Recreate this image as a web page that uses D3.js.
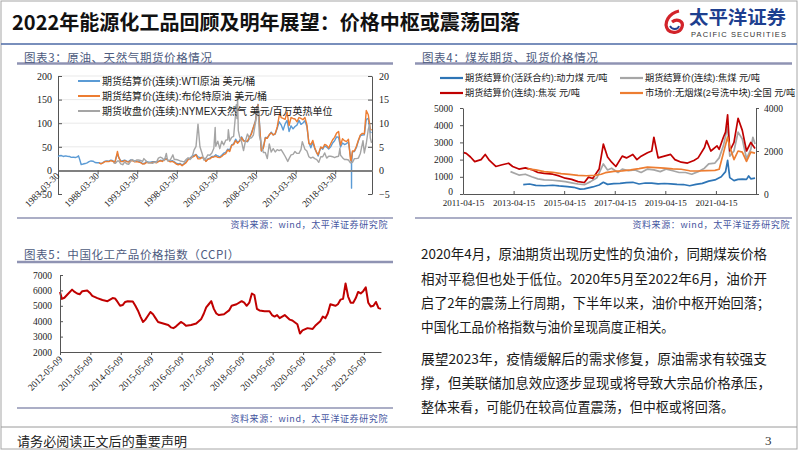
<!DOCTYPE html>
<html>
<head>
<meta charset="utf-8">
<script src="https://cdn.jsdelivr.net/npm/d3@7"></script>
<style>
	body { margin: 0; background: #fff; }
	svg { display: block; }
</style>
</head>
<body>
<svg id="slide" width="802" height="452"></svg>
<script>
// ---- data ----
var oilTicks = ['1983-03-30', '1988-03-30', '1993-03-30', '1998-03-30', '2003-03-30', '2008-03-30', '2013-03-30', '2018-03-30'];
var oilLeftTicks = [-50, 0, 50, 100, 150, 200];
var oilRightTicks = [-5, 0, 5, 10, 15, 20];
var oilNames = ['期货结算价(连续):WTI原油 美元/桶', '期货结算价(连续):布伦特原油 美元/桶', '期货收盘价(连续):NYMEX天然气 美元/百万英热单位'];

var wti = [
	['1983-03-30', 29.3], ['1983-06', 31.0], ['1983-09', 31.5], ['1983-12', 29.5],
	['1984-03', 30.8], ['1984-06', 30.0], ['1984-09', 29.5], ['1984-12', 27.5],
	['1985-03', 28.0], ['1985-06', 27.2], ['1985-09', 28.5], ['1985-11', 30.8],
	['1986-01', 22.0], ['1986-03', 12.6], ['1986-06', 13.5], ['1986-09', 14.5], ['1986-12', 16.0],
	['1987-03', 18.5], ['1987-06', 20.0], ['1987-09', 19.5], ['1987-12', 16.8],
	['1988-03', 16.2], ['1988-06', 16.5], ['1988-09', 14.5], ['1988-12', 16.5],
	['1989-03', 19.5], ['1989-06', 20.2], ['1989-09', 19.6], ['1989-12', 21.8],
	['1990-03', 20.5], ['1990-06', 17.0], ['1990-08', 27.0], ['1990-10', 35.0], ['1990-12', 27.5],
	['1991-03', 19.5], ['1991-06', 20.5], ['1991-09', 21.5], ['1991-12', 19.5],
	['1992-03', 19.0], ['1992-06', 22.3], ['1992-09', 21.5], ['1992-12', 19.5],
	['1993-03', 20.3], ['1993-06', 19.0], ['1993-09', 17.5], ['1993-12', 14.5],
	['1994-03', 14.6], ['1994-06', 19.0], ['1994-09', 17.5], ['1994-12', 17.6],
	['1995-03', 18.6], ['1995-06', 18.5], ['1995-09', 17.8], ['1995-12', 19.0],
	['1996-03', 21.5], ['1996-06', 20.5], ['1996-09', 24.0], ['1996-12', 25.5],
	['1997-03', 21.0], ['1997-06', 19.5], ['1997-09', 20.5], ['1997-12', 18.3],
	['1998-03', 15.5], ['1998-06', 13.7], ['1998-09', 14.8], ['1998-12', 11.3],
	['1999-03', 14.5], ['1999-06', 18.5], ['1999-09', 24.0], ['1999-12', 26.0],
	['2000-03', 30.0], ['2000-06', 32.0], ['2000-09', 34.0], ['2000-12', 28.5],
	['2001-03', 27.0], ['2001-06', 27.5], ['2001-09', 26.0], ['2001-12', 19.5],
	['2002-03', 24.5], ['2002-06', 26.0], ['2002-09', 29.5], ['2002-12', 29.5],
	['2003-03', 33.0], ['2003-06', 30.5], ['2003-09', 28.5], ['2003-12', 32.0],
	['2004-03', 36.5], ['2004-06', 38.0], ['2004-09', 45.0], ['2004-12', 43.0],
	['2005-03', 54.0], ['2005-06', 56.5], ['2005-09', 66.0], ['2005-12', 59.5],
	['2006-03', 62.5], ['2006-06', 71.0], ['2006-09', 63.5], ['2006-12', 62.0],
	['2007-03', 60.5], ['2007-06', 67.5], ['2007-09', 80.0], ['2007-12', 91.5],
	['2008-03', 105.0], ['2008-05', 125.0], ['2008-07', 140.0], ['2008-09', 104.0], ['2008-12', 41.0],
	['2009-03', 48.0], ['2009-06', 70.0], ['2009-09', 69.5], ['2009-12', 74.5],
	['2010-03', 81.0], ['2010-06', 75.5], ['2010-09', 77.0], ['2010-12', 89.0],
	['2011-03', 103.0], ['2011-06', 96.5], ['2011-09', 85.5], ['2011-12', 98.5],
	['2012-03', 106.0], ['2012-06', 82.5], ['2012-09', 94.5], ['2012-12', 88.0],
	['2013-03', 93.0], ['2013-06', 96.0], ['2013-09', 106.0], ['2013-12', 97.5],
	['2014-03', 100.5], ['2014-06', 105.0], ['2014-09', 93.0], ['2014-12', 59.0],
	['2015-03', 47.8], ['2015-06', 59.8], ['2015-09', 45.5], ['2015-12', 37.2],
	['2016-02', 30.5], ['2016-06', 48.8], ['2016-09', 44.9], ['2016-12', 52.0],
	['2017-03', 49.5], ['2017-06', 45.2], ['2017-09', 49.8], ['2017-12', 58.0],
	['2018-03', 62.8], ['2018-06', 71.0], ['2018-09', 70.2], ['2018-12', 49.5],
	['2019-03', 58.2], ['2019-06', 54.7], ['2019-09', 56.9], ['2019-12', 59.8],
	['2020-03-31', 20.5], ['2020-04-17', 18.3], ['2020-04-20', -37.6], ['2020-04-22', 13.8],
	['2020-06', 39.3], ['2020-09', 40.0], ['2020-12', 48.4],
	['2021-03', 62.3], ['2021-06', 73.5], ['2021-09', 75.0], ['2021-12', 75.2],
	['2022-03', 108.0], ['2022-06', 110.0], ['2022-09', 80.0], ['2022-11', 80.5]
];

var brent = [
	['1988-06', 16.0], ['1988-09', 14.0], ['1988-12', 16.0],
	['1989-03', 18.5], ['1989-06', 18.8], ['1989-09', 18.5], ['1989-12', 20.5],
	['1990-03', 19.5], ['1990-06', 16.0], ['1990-08', 27.5], ['1990-10', 40.0], ['1990-12', 27.0],
	['1991-03', 19.0], ['1991-06', 18.5], ['1991-09', 21.0], ['1991-12', 18.5],
	['1992-03', 17.5], ['1992-06', 21.0], ['1992-09', 20.5], ['1992-12', 18.0],
	['1993-03', 18.5], ['1993-06', 17.5], ['1993-09', 16.5], ['1993-12', 13.5],
	['1994-03', 13.8], ['1994-06', 17.0], ['1994-09', 16.3], ['1994-12', 16.0],
	['1995-03', 17.0], ['1995-06', 17.2], ['1995-09', 16.0], ['1995-12', 18.5],
	['1996-03', 20.5], ['1996-06', 19.0], ['1996-09', 22.5], ['1996-12', 24.0],
	['1997-03', 20.5], ['1997-06', 18.0], ['1997-09', 19.0], ['1997-12', 17.0],
	['1998-03', 13.5], ['1998-06', 12.0], ['1998-09', 13.3], ['1998-12', 10.0],
	['1999-03', 13.0], ['1999-06', 16.5], ['1999-09', 22.5], ['1999-12', 25.5],
	['2000-03', 27.5], ['2000-06', 29.5], ['2000-09', 33.0], ['2000-12', 24.5],
	['2001-03', 24.5], ['2001-06', 27.5], ['2001-09', 25.5], ['2001-12', 19.0],
	['2002-03', 23.5], ['2002-06', 24.5], ['2002-09', 28.0], ['2002-12', 28.5],
	['2003-03', 30.0], ['2003-06', 27.5], ['2003-09', 27.0], ['2003-12', 29.5],
	['2004-03', 33.5], ['2004-06', 35.5], ['2004-09', 43.0], ['2004-12', 40.0],
	['2005-03', 53.0], ['2005-06', 54.5], ['2005-09', 63.0], ['2005-12', 57.5],
	['2006-03', 62.0], ['2006-06', 69.5], ['2006-09', 62.0], ['2006-12', 62.0],
	['2007-03', 62.0], ['2007-06', 71.0], ['2007-09', 77.0], ['2007-12', 91.5],
	['2008-03', 103.0], ['2008-05', 123.0], ['2008-07', 139.0], ['2008-09', 100.0], ['2008-12', 41.5],
	['2009-03', 47.0], ['2009-06', 68.5], ['2009-09', 68.0], ['2009-12', 76.0],
	['2010-03', 79.5], ['2010-06', 75.0], ['2010-09', 78.0], ['2010-12', 92.0],
	['2011-03', 115.0], ['2011-04', 123.0], ['2011-06', 112.0], ['2011-09', 110.0], ['2011-12', 108.0],
	['2012-03', 124.0], ['2012-06', 95.0], ['2012-09', 112.0], ['2012-12', 110.0],
	['2013-03', 109.0], ['2013-06', 103.0], ['2013-09', 112.0], ['2013-12', 110.0],
	['2014-03', 107.5], ['2014-06', 112.0], ['2014-09', 97.0], ['2014-12', 57.0],
	['2015-03', 55.0], ['2015-06', 63.5], ['2015-09', 48.0], ['2015-12', 37.0],
	['2016-02', 33.0], ['2016-06', 49.5], ['2016-09', 47.0], ['2016-12', 55.0],
	['2017-03', 53.0], ['2017-06', 47.5], ['2017-09', 56.5], ['2017-12', 65.0],
	['2018-03', 70.0], ['2018-06', 79.0], ['2018-09', 82.5], ['2018-12', 53.5],
	['2019-03', 67.0], ['2019-06', 63.0], ['2019-09', 61.0], ['2019-12', 66.0],
	['2020-03', 23.0], ['2020-04', 20.0], ['2020-06', 41.0], ['2020-09', 41.0], ['2020-12', 51.0],
	['2021-03', 64.0], ['2021-06', 75.0], ['2021-09', 78.5], ['2021-12', 77.5],
	['2022-03', 127.0], ['2022-06', 118.0], ['2022-09', 88.0], ['2022-11', 85.0]
];

var gas = [
	['1990-04', 1.6], ['1990-07', 1.5], ['1990-10', 2.0], ['1990-12', 2.0],
	['1991-03', 1.4], ['1991-06', 1.2], ['1991-09', 1.8], ['1991-12', 1.4],
	['1992-03', 1.3], ['1992-06', 1.9], ['1992-08', 2.3], ['1992-12', 1.9],
	['1993-03', 2.2], ['1993-06', 2.2], ['1993-09', 2.1], ['1993-12', 1.9],
	['1994-02', 2.5], ['1994-06', 1.9], ['1994-09', 1.6], ['1994-12', 1.6],
	['1995-03', 1.5], ['1995-06', 1.7], ['1995-09', 1.7], ['1995-12', 2.6],
	['1996-03', 2.8], ['1996-06', 2.6], ['1996-09', 2.1], ['1996-12', 3.6],
	['1997-02', 2.0], ['1997-06', 2.2], ['1997-10', 3.3], ['1997-12', 2.3],
	['1998-03', 2.3], ['1998-06', 2.2], ['1998-09', 2.0], ['1998-12', 1.9],
	['1999-03', 1.8], ['1999-06', 2.3], ['1999-09', 2.7], ['1999-12', 2.3],
	['2000-03', 2.8], ['2000-06', 4.3], ['2000-09', 5.1], ['2000-12', 9.8],
	['2001-03', 5.0], ['2001-06', 3.7], ['2001-09', 2.2], ['2001-12', 2.6],
	['2002-03', 3.3], ['2002-06', 3.2], ['2002-09', 3.7], ['2002-12', 4.7],
	['2003-02', 9.1], ['2003-03', 5.1], ['2003-06', 6.2], ['2003-09', 4.6], ['2003-12', 6.2],
	['2004-03', 5.4], ['2004-06', 6.4], ['2004-09', 6.5], ['2004-10', 8.6], ['2004-12', 6.2],
	['2005-03', 7.0], ['2005-06', 7.2], ['2005-09', 12.0], ['2005-10', 13.9], ['2005-11', 11.0], ['2005-12', 15.4],
	['2006-01', 8.5], ['2006-03', 7.2], ['2006-06', 6.1], ['2006-09', 4.2], ['2006-12', 6.3],
	['2007-03', 7.7], ['2007-06', 6.8], ['2007-09', 6.9], ['2007-12', 7.5],
	['2008-03', 10.0], ['2008-07', 13.6], ['2008-09', 7.4], ['2008-12', 5.6],
	['2009-03', 3.8], ['2009-06', 3.8], ['2009-09', 2.5], ['2009-12', 5.6],
	['2010-03', 3.9], ['2010-06', 4.6], ['2010-09', 3.9], ['2010-12', 4.4],
	['2011-03', 4.2], ['2011-06', 4.4], ['2011-09', 3.7], ['2011-12', 3.0],
	['2012-04', 1.9], ['2012-06', 2.5], ['2012-09', 3.3], ['2012-12', 3.4],
	['2013-03', 4.0], ['2013-06', 3.6], ['2013-09', 3.6], ['2013-12', 4.4],
	['2014-02', 6.1], ['2014-06', 4.5], ['2014-09', 4.1], ['2014-12', 2.9],
	['2015-03', 2.6], ['2015-06', 2.8], ['2015-09', 2.5], ['2015-12', 2.3],
	['2016-03', 1.7], ['2016-06', 2.9], ['2016-09', 2.9], ['2016-12', 3.7],
	['2017-03', 2.6], ['2017-06', 3.0], ['2017-09', 3.0], ['2017-12', 2.9],
	['2018-03', 2.7], ['2018-06', 2.9], ['2018-09', 3.0], ['2018-11', 4.7], ['2018-12', 3.2],
	['2019-03', 2.7], ['2019-06', 2.3], ['2019-09', 2.3], ['2019-12', 2.2],
	['2020-03', 1.6], ['2020-06', 1.7], ['2020-09', 2.5], ['2020-12', 2.5],
	['2021-03', 2.6], ['2021-06', 3.6], ['2021-10', 6.3], ['2021-12', 3.7],
	['2022-03', 5.7], ['2022-06', 8.7], ['2022-08', 9.7], ['2022-09', 6.9], ['2022-11', 5.8]
];

var coalTicks = ['2011-04-15', '2013-04-15', '2015-04-15', '2017-04-15', '2019-04-15', '2021-04-15'];
var coalLeftTicks = [0, 1000, 2000, 3000, 4000, 5000];
var coalRightTicks = [0, 2000, 4000];
var coalNames = ['期货结算价(活跃合约):动力煤 元/吨', '期货结算价(连续):焦煤 元/吨', '期货结算价(连续):焦炭 元/吨', '市场价:无烟煤(2号洗中块):全国 元/吨'];

var thermalCoal = [
	['2013-09', 540], ['2013-12', 580], ['2014-03', 500], ['2014-07', 480], ['2014-11', 510],
	['2015-02', 470], ['2015-06', 430], ['2015-09', 390], ['2015-12', 280], ['2016-02', 300],
	['2016-06', 410], ['2016-09', 520], ['2016-11', 680], ['2017-01', 560], ['2017-04', 600],
	['2017-07', 620], ['2017-10', 660], ['2018-01', 680], ['2018-04', 580], ['2018-07', 640],
	['2018-10', 630], ['2019-01', 590], ['2019-04', 610], ['2019-07', 590], ['2019-10', 560],
	['2020-01', 550], ['2020-04', 480], ['2020-07', 560], ['2020-10', 620], ['2021-01', 750],
	['2021-04', 820], ['2021-07', 1000], ['2021-09', 1300], ['2021-10', 1950], ['2021-11', 950],
	['2022-01', 780], ['2022-03', 850], ['2022-05', 860], ['2022-07', 850], ['2022-08', 1050],
	['2022-09', 880], ['2022-11', 920]
];

var cokingCoal = [
	['2013-03', 1300], ['2013-07', 1100], ['2013-10', 1150], ['2014-01', 1000], ['2014-04', 880],
	['2014-07', 820], ['2014-11', 800], ['2015-02', 760], ['2015-05', 720], ['2015-08', 650],
	['2015-11', 580], ['2016-02', 540], ['2016-05', 720], ['2016-08', 950], ['2016-11', 1750],
	['2017-01', 1400], ['2017-03', 1500], ['2017-06', 1250], ['2017-08', 1450], ['2017-11', 1350],
	['2018-02', 1400], ['2018-05', 1250], ['2018-08', 1450], ['2018-11', 1400], ['2019-02', 1300],
	['2019-05', 1450], ['2019-08', 1350], ['2019-11', 1250], ['2020-02', 1250], ['2020-05', 1150],
	['2020-08', 1300], ['2020-11', 1500], ['2021-01', 1750], ['2021-04', 1800], ['2021-06', 2100],
	['2021-08', 2800], ['2021-10', 3900], ['2021-11', 2200], ['2022-01', 2500], ['2022-03', 3600],
	['2022-05', 3200], ['2022-07', 2050], ['2022-09', 2600], ['2022-10', 3300], ['2022-11', 2900]
];

var coke = [
	['2011-04-15', 2420], ['2011-06', 2360], ['2011-08', 2150], ['2011-10', 1880], ['2012-01', 2000],
	['2012-03', 2300], ['2012-05', 1950], ['2012-08', 1600], ['2012-11', 1700], ['2013-02', 1790],
	['2013-04', 1600], ['2013-07', 1450], ['2013-10', 1520], ['2014-01', 1420], ['2014-04', 1250],
	['2014-07', 1200], ['2014-11', 1150], ['2015-02', 1050], ['2015-05', 920], ['2015-08', 850],
	['2015-11', 720], ['2016-02', 670], ['2016-04', 980], ['2016-06', 900], ['2016-09', 1450],
	['2016-11', 2900], ['2017-01', 2150], ['2017-03', 1850], ['2017-05', 1600], ['2017-08', 2200],
	['2017-10', 2100], ['2018-01', 2300], ['2018-03', 2000], ['2018-05', 2200], ['2018-08', 2400],
	['2018-10', 2500], ['2018-11', 3300], ['2019-01', 2100], ['2019-04', 2200], ['2019-07', 2300],
	['2019-09', 2000], ['2019-12', 1850], ['2020-03', 1800], ['2020-06', 1950], ['2020-08', 2100],
	['2020-11', 2700], ['2020-12', 3100], ['2021-02', 2500], ['2021-05', 2800], ['2021-06', 2600],
	['2021-08', 3300], ['2021-09', 3600], ['2021-10', 4600], ['2021-11', 2500], ['2022-01', 3000],
	['2022-03', 4400], ['2022-05', 3700], ['2022-07', 2500], ['2022-09', 3000], ['2022-11', 2650]
];

// right axis
var anthracite = [
	['2013-11', 1170], ['2014-03', 1120], ['2014-07', 1040], ['2014-11', 1010], ['2015-03', 950],
	['2015-07', 910], ['2015-11', 870], ['2016-03', 850], ['2016-07', 870], ['2016-10', 920],
	['2016-12', 990], ['2017-04', 1050], ['2017-08', 1080], ['2017-12', 1120], ['2018-04', 1180],
	['2018-08', 1250], ['2018-12', 1230], ['2019-04', 1200], ['2019-08', 1170], ['2019-12', 1150],
	['2020-04', 1080], ['2020-08', 1070], ['2020-12', 1090], ['2021-04', 1100], ['2021-06', 1150],
	['2021-08', 1900], ['2021-10', 2650], ['2021-11', 2200], ['2022-01', 1600], ['2022-03', 2000],
	['2022-05', 1950], ['2022-07', 1520], ['2022-09', 1950], ['2022-11', 1900]
];

var ccpiTicks = ['2012-05-09', '2013-05-09', '2014-05-09', '2015-05-09', '2016-05-09', '2017-05-09', '2018-05-09', '2019-05-09', '2020-05-09', '2021-05-09', '2022-05-09'];
var ccpiYTicks = [2000, 3000, 4000, 5000, 6000, 7000];
var ccpi = [
	['2012-05-09', 5900], ['2012-06', 5450], ['2012-07', 5520], ['2012-08', 5700], ['2012-10', 6050],
	['2012-11', 5900], ['2012-12', 5800], ['2013-01', 5750], ['2013-02', 5950], ['2013-04', 6000],
	['2013-05', 5850], ['2013-06', 5650], ['2013-08', 5500], ['2013-10', 5380], ['2013-12', 5300],
	['2014-01', 5400], ['2014-02', 5500], ['2014-03', 5480], ['2014-04', 5250], ['2014-05', 5000],
	['2014-06', 5050], ['2014-07', 5250], ['2014-08', 5300], ['2014-10', 5280], ['2014-11', 5000],
	['2014-12', 4700], ['2015-01', 4300], ['2015-02', 3950], ['2015-03', 4100], ['2015-04', 4350],
	['2015-05', 4600], ['2015-06', 4450], ['2015-07', 4200], ['2015-08', 3950], ['2015-10', 3850],
	['2015-12', 3750], ['2016-01', 3600], ['2016-02', 3550], ['2016-03', 3650], ['2016-05', 3950],
	['2016-06', 3850], ['2016-07', 3700], ['2016-09', 3750], ['2016-11', 3850], ['2017-01', 4150],
	['2017-02', 4500], ['2017-03', 4900], ['2017-04', 5100], ['2017-05', 5300], ['2017-06', 4800],
	['2017-07', 4500], ['2017-08', 4400], ['2017-10', 4450], ['2017-12', 4700], ['2018-01', 5000],
	['2018-03', 5100], ['2018-05', 5300], ['2018-06', 5200], ['2018-07', 5000], ['2018-08', 5200],
	['2018-09', 5800], ['2018-10', 5700], ['2018-11', 4800], ['2018-12', 4700], ['2019-02', 4650],
	['2019-04', 4650], ['2019-05', 4400], ['2019-06', 4300], ['2019-07', 4400], ['2019-08', 4200],
	['2019-10', 4400], ['2019-12', 4100], ['2020-01', 4050], ['2020-03', 3800], ['2020-04', 3200],
	['2020-05', 3400], ['2020-07', 3550], ['2020-09', 3500], ['2020-10', 3700], ['2020-12', 4000],
	['2021-01', 4300], ['2021-02', 4200], ['2021-03', 4500], ['2021-04', 5100], ['2021-06', 5000],
	['2021-07', 5100], ['2021-08', 5400], ['2021-09', 5450], ['2021-10', 6450], ['2021-11', 5600],
	['2021-12', 5200], ['2022-01', 5200], ['2022-02', 5500], ['2022-03', 5900], ['2022-04', 5800],
	['2022-05', 5950], ['2022-06', 6200], ['2022-07', 5200], ['2022-08', 4950], ['2022-09', 5000],
	['2022-10', 5250], ['2022-11', 4850], ['2022-12', 4800]
];

var bodyLines = [
	'2020年4月，原油期货出现历史性的负油价，同期煤炭价格',
	'相对平稳但也处于低位。2020年5月至2022年6月，油价开',
	'启了2年的震荡上行周期，下半年以来，油价中枢开始回落；',
	'中国化工品价格指数与油价呈现高度正相关。',
	'展望2023年，疫情缓解后的需求修复，原油需求有较强支',
	'撑，但美联储加息效应逐步显现或将导致大宗品价格承压，',
	'整体来看，可能仍在较高位置震荡，但中枢或将回落。'
];

(function() {

	var svg = d3.select('#slide');
	var SERIF = '"Liberation Serif", "Times New Roman", serif';
	var SANS = '"Liberation Sans", "Noto Sans CJK SC", sans-serif';
	var CJK = '"Noto Sans CJK SC", sans-serif';
	var PANEL_LINE = '#8f93b3';
	var SOURCE_COLOR = '#4655a0';
	var plain = d3.format('d');

	function parse(s) { return d3.timeParse(s.length > 7 ? '%Y-%m-%d' : '%Y-%m')(s); }

	function hline(x1, x2, y, color, width) {
		svg.append('line').attr('x1', x1).attr('x2', x2).attr('y1', y).attr('y2', y)
			.attr('stroke', color).attr('stroke-width', width);
	}

	function panelTitle(x, y, text) {
		svg.append('text').attr('x', x).attr('y', y).attr('dominant-baseline', 'central')
			.attr('font-family', CJK).attr('font-size', 11.5).attr('letter-spacing', 0.6)
			.attr('fill', '#4d5b80').text(text);
	}

	function source(xEnd, y) {
		svg.append('text').attr('x', xEnd).attr('y', y).attr('text-anchor', 'end')
			.attr('dominant-baseline', 'central').attr('font-family', CJK).attr('font-size', 9)
			.attr('letter-spacing', 0.6).attr('fill', SOURCE_COLOR).text('资料来源：wind，太平洋证券研究院');
	}

	function styleAxis(g, size) {
		g.selectAll('text').attr('font-family', SERIF).attr('font-size', size).attr('fill', '#222');
		g.selectAll('line').attr('stroke', '#555');
		g.select('.domain').attr('stroke', '#555');
	}

	function drawLine(data, x, y, color, width) {
		var line = d3.line().x(function(d) { return x(parse(d[0])); }).y(function(d) { return y(d[1]); });
		svg.append('path').datum(data).attr('d', line).attr('fill', 'none')
			.attr('stroke', color).attr('stroke-width', width).attr('stroke-linejoin', 'round');
	}

	// ---- frame, header, footer ----
	function drawFrame() {
		svg.append('rect').attr('x', 1).attr('y', 1).attr('width', 796).attr('height', 448)
			.attr('fill', 'none').attr('stroke', '#a6a6a6');
		hline(1, 797, 44, '#4d6aa6', 1.6);
		hline(1, 797, 427, '#9a9a9a', 1);

		svg.append('text').attr('x', 12).attr('y', 21).attr('dominant-baseline', 'central')
			.attr('font-family', CJK).attr('font-weight', 'bold').attr('font-size', 20)
			.attr('textLength', 508).attr('lengthAdjust', 'spacingAndGlyphs')
			.attr('fill', '#111').text('2022年能源化工品回顾及明年展望：价格中枢或震荡回落');

		// logo
		svg.append('path').attr('d', 'M679 11 C669 13 663 23 668 30 C672 34 680 33 682 27 C684 21 677 18 672 22')
			.attr('fill', 'none').attr('stroke', '#d2232a').attr('stroke-width', 3.2);
		svg.append('path').attr('d', 'M670 26 C672 30 678 30 679 26')
			.attr('fill', 'none').attr('stroke', '#1e3f8f').attr('stroke-width', 1.8);
		svg.append('text').attr('x', 689).attr('y', 16).attr('dominant-baseline', 'central')
			.attr('font-family', CJK).attr('font-weight', 'bold').attr('font-size', 18)
			.attr('textLength', 97).attr('lengthAdjust', 'spacingAndGlyphs')
			.attr('fill', '#1e3f8f').text('太平洋证券');
		svg.append('text').attr('x', 691).attr('y', 34.5).attr('dominant-baseline', 'central')
			.attr('font-family', SANS).attr('font-size', 7.5)
			.attr('textLength', 95).attr('lengthAdjust', 'spacing')
			.attr('fill', '#333').text('PACIFIC SECURITIES');

		svg.append('text').attr('x', 17).attr('y', 440).attr('dominant-baseline', 'central')
			.attr('font-family', CJK).attr('font-size', 13).attr('textLength', 170)
			.attr('fill', '#222').text('请务必阅读正文后的重要声明');
		svg.append('text').attr('x', 765).attr('y', 440).attr('dominant-baseline', 'central')
			.attr('font-family', SERIF).attr('font-size', 13).attr('fill', '#333').text('3');
	}

	// ---- chart 3: oil and gas ----
	function drawOilChart() {
		hline(17, 393, 63.5, PANEL_LINE, 2.5);
		panelTitle(24, 57, '图表3：原油、天然气期货价格情况');

		var x = d3.scaleTime().domain([parse('1983-03-30'), parse('2022-11-20')]).range([58, 372]);
		var y = d3.scaleLinear().domain([-50, 200]).range([194, 76]);
		var yR = d3.scaleLinear().domain([-5, 20]).range([194, 76]);

		oilLeftTicks.filter(function(v) { return v > 0; }).forEach(function(v) {
			hline(58, 372, y(v), '#e3e3e3', 0.8);
		});

		var gl = svg.append('g').attr('transform', 'translate(58,0)')
			.call(d3.axisLeft(y).tickValues(oilLeftTicks).tickSize(-4).tickSizeOuter(0).tickPadding(6).tickFormat(plain));
		styleAxis(gl, 10);
		var gr = svg.append('g').attr('transform', 'translate(372,0)')
			.call(d3.axisRight(yR).tickValues(oilRightTicks).tickSize(-4).tickSizeOuter(0).tickPadding(7).tickFormat(plain));
		styleAxis(gr, 10);

		drawLine(wti, x, y, '#5b9bd5', 1.4);
		drawLine(brent, x, y, '#ed7d31', 1.4);
		drawLine(gas, x, yR, '#a5a5a5', 1.4);

		var y0 = y(0);
		var gx = svg.append('g').attr('transform', 'translate(0,' + y0 + ')')
			.call(d3.axisBottom(x).tickValues(oilTicks.map(parse)).tickSize(4).tickSizeOuter(0).tickFormat(''));
		gx.select('.domain').attr('stroke', '#808080').attr('stroke-width', 2);
		gx.selectAll('line').attr('stroke', '#555');

		oilTicks.forEach(function(t) {
			svg.append('text').attr('transform', 'translate(' + (x(parse(t)) + 2) + ',' + (y0 + 6) + ') rotate(-45)')
				.attr('text-anchor', 'end').attr('font-family', SERIF).attr('font-size', 9.5)
				.attr('fill', '#222').text(t);
		});

		var colors = ['#5b9bd5', '#ed7d31', '#a5a5a5'];
		oilNames.forEach(function(name, i) {
			var ly = 81 + i * 15;
			hline(78, 100, ly, colors[i], 2);
			svg.append('text').attr('x', 102).attr('y', ly).attr('dominant-baseline', 'central')
				.attr('font-family', SANS).attr('font-size', 10).attr('fill', '#222').text(name);
		});

		hline(17, 393, 218, PANEL_LINE, 1.5);
		source(388, 224);
	}

	// ---- chart 4: coal ----
	function drawCoalChart() {
		hline(415, 792, 63.5, PANEL_LINE, 2.5);
		panelTitle(422, 57, '图表4：煤炭期货、现货价格情况');

		var x = d3.scaleTime().domain([parse('2011-04-15'), parse('2022-11-15')]).range([463, 756]);
		var y = d3.scaleLinear().domain([0, 5000]).range([194, 108]);
		var yR = d3.scaleLinear().domain([0, 4000]).range([194, 108]);

		var colors = ['#2e75b6', '#a6a6a6', '#c00000', '#ed7d31'];
		drawLine(thermalCoal, x, y, colors[0], 1.7);
		drawLine(cokingCoal, x, y, colors[1], 1.7);
		drawLine(coke, x, y, colors[2], 1.7);
		drawLine(anthracite, x, yR, colors[3], 1.7);

		var gl = svg.append('g').attr('transform', 'translate(463,0)')
			.call(d3.axisLeft(y).tickValues(coalLeftTicks).tickSize(3).tickSizeOuter(0).tickPadding(7).tickFormat(plain));
		styleAxis(gl, 9.5);
		gl.selectAll('.tick text').filter(function(d) { return d === 0; }).attr('dy', '0.1em');
		var gr = svg.append('g').attr('transform', 'translate(756,0)')
			.call(d3.axisRight(yR).tickValues(coalRightTicks).tickSize(3).tickSizeOuter(0).tickPadding(5).tickFormat(plain));
		styleAxis(gr, 9.5);
		var gx = svg.append('g').attr('transform', 'translate(0,194)')
			.call(d3.axisBottom(x).tickValues(coalTicks.map(parse)).tickSize(-3).tickSizeOuter(0)
				.tickPadding(6).tickFormat(d3.timeFormat('%Y-%m-%d')));
		styleAxis(gx, 9);

		coalNames.forEach(function(name, i) {
			var lx = i % 2 === 0 ? 440 : 620;
			var ly = i < 2 ? 78 : 93;
			hline(lx, lx + 23, ly, colors[i], 2.2);
			svg.append('text').attr('x', lx + 25).attr('y', ly).attr('dominant-baseline', 'central')
				.attr('font-family', SANS).attr('font-size', 9.2).attr('fill', '#222').text(name);
		});

		hline(415, 792, 218, PANEL_LINE, 1.5);
		source(790, 224);
	}

	// ---- chart 5: CCPI ----
	function drawCcpiChart() {
		hline(17, 393, 262, PANEL_LINE, 2.5);
		panelTitle(24, 254, '图表5：中国化工产品价格指数（CCPI）');

		var x = d3.scaleTime().domain([parse('2012-05-09'), parse('2022-12')]).range([60, 381]);
		var y = d3.scaleLinear().domain([2000, 7000]).range([352, 275]);

		drawLine(ccpi, x, y, '#c00000', 2);

		var gl = svg.append('g').attr('transform', 'translate(60,0)')
			.call(d3.axisLeft(y).tickValues(ccpiYTicks).tickSize(-3).tickSizeOuter(0).tickPadding(8).tickFormat(plain));
		styleAxis(gl, 9.5);
		var gx = svg.append('g').attr('transform', 'translate(0,352)')
			.call(d3.axisBottom(x).tickValues(ccpiTicks.map(parse)).tickSize(3).tickSizeOuter(0).tickFormat(''));
		styleAxis(gx, 9);

		ccpiTicks.forEach(function(t) {
			svg.append('text').attr('transform', 'translate(' + (x(parse(t)) + 3) + ',360) rotate(-45)')
				.attr('text-anchor', 'end').attr('font-family', SERIF).attr('font-size', 9.5)
				.attr('fill', '#222').text(t);
		});

		hline(17, 393, 408, PANEL_LINE, 1.5);
		source(388, 418);
	}

	// ---- commentary ----
	function drawText() {
		var centers = [253.3, 277.7, 302.3, 325.5, 358.3, 381.7, 405.7];
		var widths = [346, 346, 349, 253, 346, 350, 313];
		bodyLines.forEach(function(line, i) {
			svg.append('text').attr('x', 421).attr('y', centers[i]).attr('dominant-baseline', 'central')
				.attr('font-family', CJK).attr('font-size', 13.6)
				.attr('textLength', widths[i]).attr('lengthAdjust', 'spacingAndGlyphs')
				.attr('fill', '#1a1a1a').text(line);
		});
	}

	drawFrame();
	drawOilChart();
	drawCoalChart();
	drawCcpiChart();
	drawText();
}());
</script>
</body>
</html>
